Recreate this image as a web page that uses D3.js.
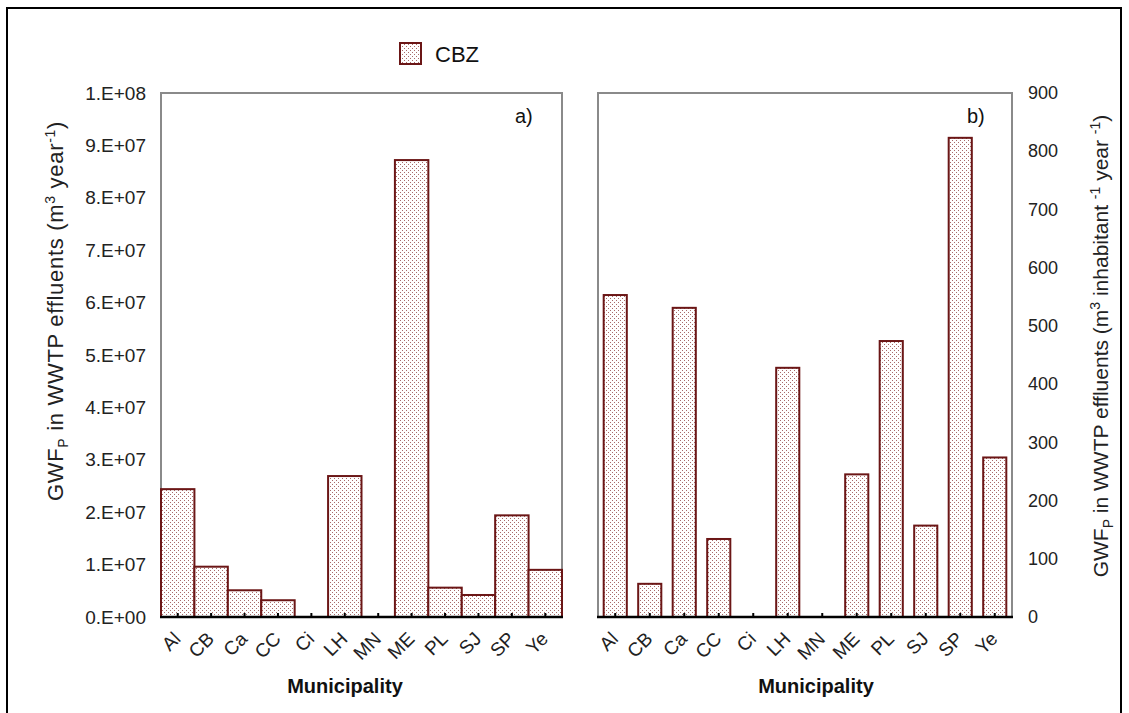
<!DOCTYPE html>
<html>
<head>
<meta charset="utf-8">
<script src="https://cdn.jsdelivr.net/npm/d3@7"></script>
<style>
  body { margin: 0; background: #fff; }
  svg { display: block; font-family: Arial, "Liberation Sans", sans-serif; }
</style>
</head>
<body>
<div id="chart"></div>
<script>
// Municipalities and the two CBZ series
const categories = ["Al", "CB", "Ca", "CC", "Ci", "LH", "MN", "ME", "PL", "SJ", "SP", "Ye"];
const totalGWF = [2.44e7, 0.96e7, 0.51e7, 0.32e7, 0, 2.69e7, 0, 8.72e7, 0.56e7, 0.42e7, 1.94e7, 0.90e7];
const perCapitaGWF = [553, 57, 531, 134, 0, 428, 0, 245, 474, 157, 823, 274];

const leftTicks = [0, 1e7, 2e7, 3e7, 4e7, 5e7, 6e7, 7e7, 8e7, 9e7, 1e8];
const leftTickLabels = ["0.E+00", "1.E+07", "2.E+07", "3.E+07", "4.E+07", "5.E+07",
  "6.E+07", "7.E+07", "8.E+07", "9.E+07", "1.E+08"];
const rightTicks = [0, 100, 200, 300, 400, 500, 600, 700, 800, 900];

const width = 1129, height = 713;
const barStroke = '#6b1616';

const svg = d3.select('#chart')
  .append('svg')
  .attr('width', width)
  .attr('height', height);

// dotted fill used by the bars and the legend key
const pat = svg.append('defs').append('pattern')
  .attr('id', 'dots')
  .attr('width', 4)
  .attr('height', 4)
  .attr('patternUnits', 'userSpaceOnUse');
pat.append('rect').attr('width', 4).attr('height', 4).attr('fill', '#fff');
pat.append('rect').attr('x', 0).attr('y', 0).attr('width', 1).attr('height', 1).attr('fill', '#a86a6a');
pat.append('rect').attr('x', 2).attr('y', 2).attr('width', 1).attr('height', 1).attr('fill', '#a86a6a');

// outer frame
svg.append('rect')
  .attr('x', 7).attr('y', 8)
  .attr('width', 1114).attr('height', 720)
  .attr('fill', 'none')
  .attr('stroke', '#000')
  .attr('stroke-width', 2);

const plotTop = 93, plotBottom = 617;

function drawPanel(opts) {
  const x = d3.scaleBand()
    .domain(categories)
    .range([opts.x0, opts.x1])
    .paddingInner(opts.padInner)
    .paddingOuter(opts.padOuter);

  const y = d3.scaleLinear()
    .domain(opts.domain)
    .range([plotBottom, plotTop]);

  const g = svg.append('g');

  // gray frame (left, top, right)
  g.append('path')
    .attr('d', `M${opts.x0},${plotBottom} V${plotTop} H${opts.x1} V${plotBottom}`)
    .attr('fill', 'none')
    .attr('stroke', '#8a8a8a')
    .attr('stroke-width', 2);

  const rows = categories.map((c, i) => ({ c: c, v: opts.values[i] }));

  // bars
  g.append('g')
    .selectAll('rect')
    .data(rows.filter(d => d.v > 0))
    .join('rect')
    .attr('x', d => x(d.c))
    .attr('y', d => y(d.v))
    .attr('width', x.bandwidth())
    .attr('height', d => plotBottom - y(d.v))
    .attr('fill', 'url(#dots)')
    .attr('stroke', barStroke)
    .attr('stroke-width', 2);

  // y axis labels
  const yAxis = opts.side === 'left'
    ? d3.axisLeft(y).tickValues(opts.ticks).tickSize(0).tickPadding(15)
        .tickFormat((d, i) => opts.labels[i])
    : d3.axisRight(y).tickValues(opts.ticks).tickSize(0).tickPadding(16);

  const ya = g.append('g')
    .attr('transform', `translate(${opts.side === 'left' ? opts.x0 : opts.x1},0)`)
    .call(yAxis);
  ya.select('.domain').remove();
  ya.selectAll('text')
    .attr('font-size', opts.tickFont)
    .attr('fill', '#222')
    .attr('font-family', 'Arial, "Liberation Sans", sans-serif');

  // x axis
  const xa = g.append('g')
    .attr('transform', `translate(0,${plotBottom})`)
    .call(d3.axisBottom(x).tickSizeInner(-4).tickSizeOuter(0).tickPadding(0));
  xa.select('.domain')
    .attr('d', `M${opts.x0 - 1},0H${opts.x1 + 1}`)
    .attr('stroke', '#000')
    .attr('stroke-width', 2.5);
  xa.selectAll('.tick line').attr('stroke', '#000').attr('stroke-width', 2);
  xa.selectAll('text')
    .attr('font-size', '19px')
    .attr('fill', '#222')
    .attr('font-family', 'Arial, "Liberation Sans", sans-serif')
    .attr('text-anchor', 'end')
    .attr('dy', null)
    .attr('y', null)
    .attr('transform', 'translate(4,23) rotate(-45)');

  // x title
  g.append('text')
    .attr('x', opts.xTitleX)
    .attr('y', 693)
    .attr('text-anchor', 'middle')
    .attr('font-size', '20px')
    .attr('font-weight', 'bold')
    .attr('fill', '#111')
    .text('Municipality');

  // panel letter
  g.append('text')
    .attr('x', opts.letterX)
    .attr('y', 123)
    .attr('font-size', '20px')
    .attr('fill', '#111')
    .text(opts.letter);
}

drawPanel({
  x0: 161, x1: 562, padInner: 0, padOuter: 0,
  domain: [0, 1e8], values: totalGWF, ticks: leftTicks, labels: leftTickLabels,
  side: 'left', tickFont: '19px', xTitleX: 345, letterX: 515, letter: 'a)'
});

drawPanel({
  x0: 598, x1: 1012, padInner: 0.33, padOuter: 0.165,
  domain: [0, 900], values: perCapitaGWF, ticks: rightTicks,
  side: 'right', tickFont: '18px', xTitleX: 816, letterX: 967, letter: 'b)'
});

// y axis titles
function yTitle(tx, ty, size, spacing, parts) {
  const t = svg.append('text')
    .attr('transform', `translate(${tx},${ty}) rotate(-90)`)
    .attr('text-anchor', 'middle')
    .attr('font-size', size)
    .attr('letter-spacing', spacing)
    .attr('fill', '#222');
  parts.forEach(p => {
    const s = t.append('tspan').text(p.t);
    if (p.sub) s.attr('font-size', '14px').attr('dy', 5);
    if (p.sup) s.attr('font-size', '14px').attr('dy', -8);
    if (p.back) s.attr('dy', p.back);
  });
}

yTitle(63, 311, '22px', 0.7, [
  { t: 'GWF' }, { t: 'P', sub: true }, { t: ' in WWTP effluents (m', back: -5 },
  { t: '3', sup: true }, { t: '  year', back: 8 }, { t: '-1', sup: true }, { t: ')', back: 8 }
]);

yTitle(1108, 346, '21px', 0, [
  { t: 'GWF' }, { t: 'P', sub: true }, { t: ' in WWTP effluents (m', back: -5 },
  { t: '3', sup: true }, { t: ' inhabitant ', back: 8 }, { t: '-1', sup: true },
  { t: ' year ', back: 8 }, { t: '-1', sup: true }, { t: ')', back: 8 }
]);

// legend
const leg = svg.append('g');
leg.append('rect')
  .attr('x', 400).attr('y', 43)
  .attr('width', 21).attr('height', 21)
  .attr('fill', 'url(#dots)')
  .attr('stroke', barStroke)
  .attr('stroke-width', 2);
leg.append('text')
  .attr('x', 435).attr('y', 62)
  .attr('font-size', '22px')
  .attr('fill', '#111')
  .text('CBZ');
</script>
</body>
</html>
